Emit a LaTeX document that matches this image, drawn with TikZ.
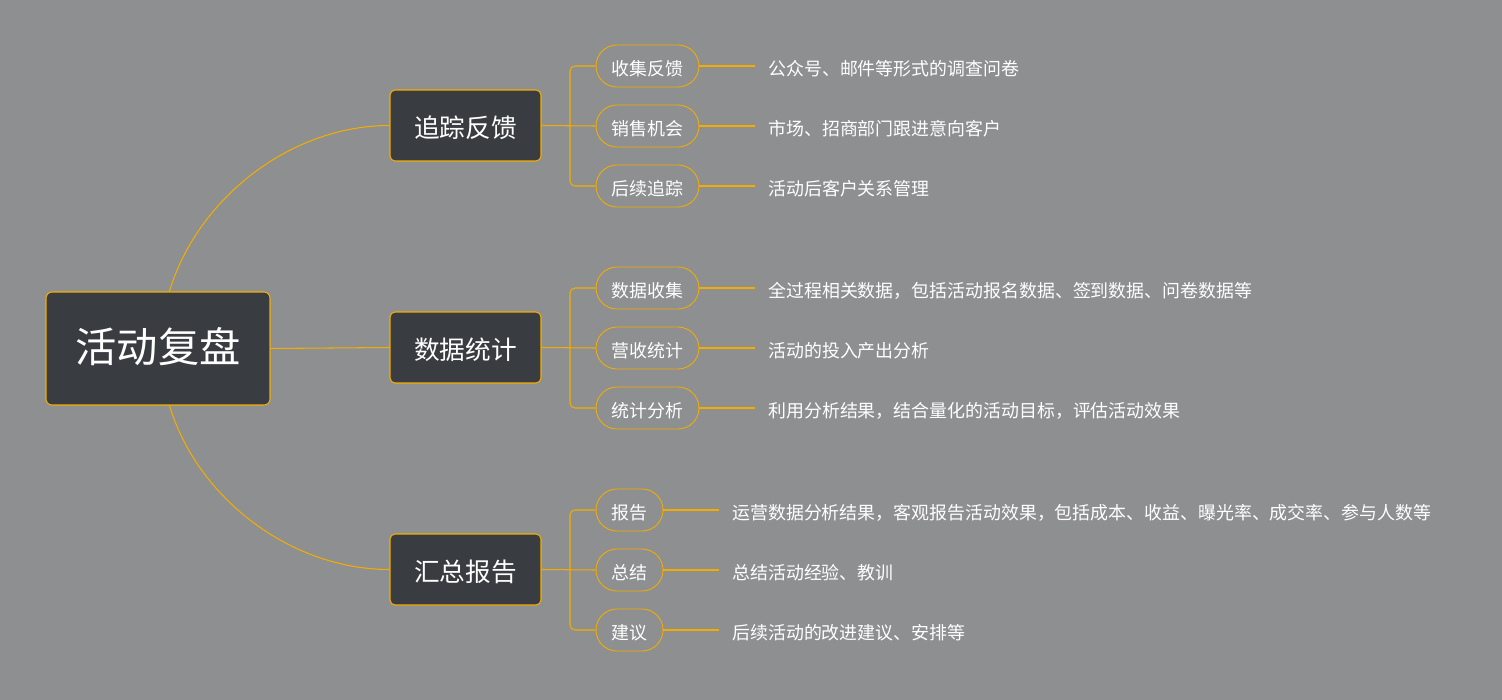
\documentclass[tikz,border=0pt]{standalone}
\usepackage{fontspec}
\setmainfont{Noto Sans CJK SC}
\usepackage{tikz}
\usetikzlibrary{positioning, calc}
\definecolor{bggray}{HTML}{8E8F91}
\definecolor{boxdark}{HTML}{393C41}
\definecolor{lineorange}{HTML}{F2AD00}
\tikzset{
    cjkmid/.style={text height=#1, text depth=0.02em},
    cjkmid/.default=1.14em,
    root/.style={rectangle, rounded corners=0.12cm, minimum width=4.48cm, minimum height=2.26cm,
                 draw=lineorange, fill=boxdark, text=white, line width=0.6pt,
                 font=\fontsize{23.5}{26}\selectfont, cjkmid=1.62em},
    branch/.style={rectangle, rounded corners=0.1cm, minimum width=3.02cm, minimum height=1.42cm,
                   draw=lineorange, fill=boxdark, text=white, line width=0.6pt,
                   font=\fontsize{14.6}{17}\selectfont, cjkmid=1.37em},
    leaf/.style={rectangle, rounded corners=0.42cm, minimum width=2.06cm, minimum height=0.84cm,
                 draw=lineorange, text=white, line width=0.5pt, inner sep=0pt,
                 font=\fontsize{10.2}{12}\selectfont, cjkmid},
    shortleaf/.style={leaf, minimum width=1.34cm},
    note/.style={anchor=west, text=white, inner xsep=0.26cm, inner ysep=0pt,
                 font=\fontsize{10.2}{12}\selectfont, cjkmid},
    link/.style={draw=lineorange, line width=0.6pt},
    bracket/.style={link, rounded corners=0.1cm}
}
\begin{document}
\begin{tikzpicture}[x=0.02cm, y=-0.02cm]
    % Background
    \fill[bggray] (0,0) rectangle (1502,700);
    \useasboundingbox (0,0) rectangle (1502,700);

    % Curves behind the root
    \coordinate (c1) at (161,348);
    \coordinate (c3) at (161,349);

    % Root
    \node[branch] (b1) at (465.5,125.5) {追踪反馈};
    \node[branch] (b2) at (465.5,347.5) {数据统计};
    \node[branch] (b3) at (465.5,569.5) {汇总报告};
    \draw[link] (c1) to[out=90, in=180, looseness=0.95] (b1.west);
    \draw[link] (c3) to[out=-90, in=180, looseness=0.95] (b3.west);
    \node[root] (root) at (158,348.5) {活动复盘};
    \draw[link] (root.east) -- (b2.west);

    % Leaves of branch 1
    \node[leaf] (p1) at (647.5,66) {收集反馈};
    \node[leaf] (p2) at (647.5,126) {销售机会};
    \node[leaf] (p3) at (647.5,186) {后续追踪};
    \node[note] (t1) at (755,66) {公众号、邮件等形式的调查问卷};
    \node[note] (t2) at (755,126) {市场、招商部门跟进意向客户};
    \node[note] (t3) at (755,186) {活动后客户关系管理};

    % Leaves of branch 2
    \node[leaf] (p4) at (647.5,288) {数据收集};
    \node[leaf] (p5) at (647.5,348) {营收统计};
    \node[leaf] (p6) at (647.5,408) {统计分析};
    \node[note] (t4) at (755,288) {全过程相关数据，包括活动报名数据、签到数据、问卷数据等};
    \node[note] (t5) at (755,348) {活动的投入产出分析};
    \node[note] (t6) at (755,408) {利用分析结果，结合量化的活动目标，评估活动效果};

    % Leaves of branch 3
    \node[shortleaf] (p7) at (629.5,510) {报告};
    \node[shortleaf] (p8) at (629.5,570) {总结};
    \node[shortleaf] (p9) at (629.5,630) {建议};
    \node[note] (t7) at (719,510) {运营数据分析结果，客观报告活动效果，包括成本、收益、曝光率、成交率、参与人数等};
    \node[note] (t8) at (719,570) {总结活动经验、教训};
    \node[note] (t9) at (719,630) {后续活动的改进建议、安排等};

    % Brackets
    \coordinate (j1) at (570,125.5);
    \coordinate (j2) at (570,347.5);
    \coordinate (j3) at (570,569.5);
    \draw[bracket] (p1.west) -| (j1) |- (p3.west);
    \draw[link] (b1.east) -- (p2.west);
    \draw[bracket] (p4.west) -| (j2) |- (p6.west);
    \draw[link] (b2.east) -- (p5.west);
    \draw[bracket] (p7.west) -| (j3) |- (p9.west);
    \draw[link] (b3.east) -- (p8.west);

    % Leaf lines
    \draw[link] (p1.east) -- (t1.west);
    \draw[link] (p2.east) -- (t2.west);
    \draw[link] (p3.east) -- (t3.west);
    \draw[link] (p4.east) -- (t4.west);
    \draw[link] (p5.east) -- (t5.west);
    \draw[link] (p6.east) -- (t6.west);
    \draw[link] (p7.east) -- (t7.west);
    \draw[link] (p8.east) -- (t8.west);
    \draw[link] (p9.east) -- (t9.west);
\end{tikzpicture}
\end{document}
